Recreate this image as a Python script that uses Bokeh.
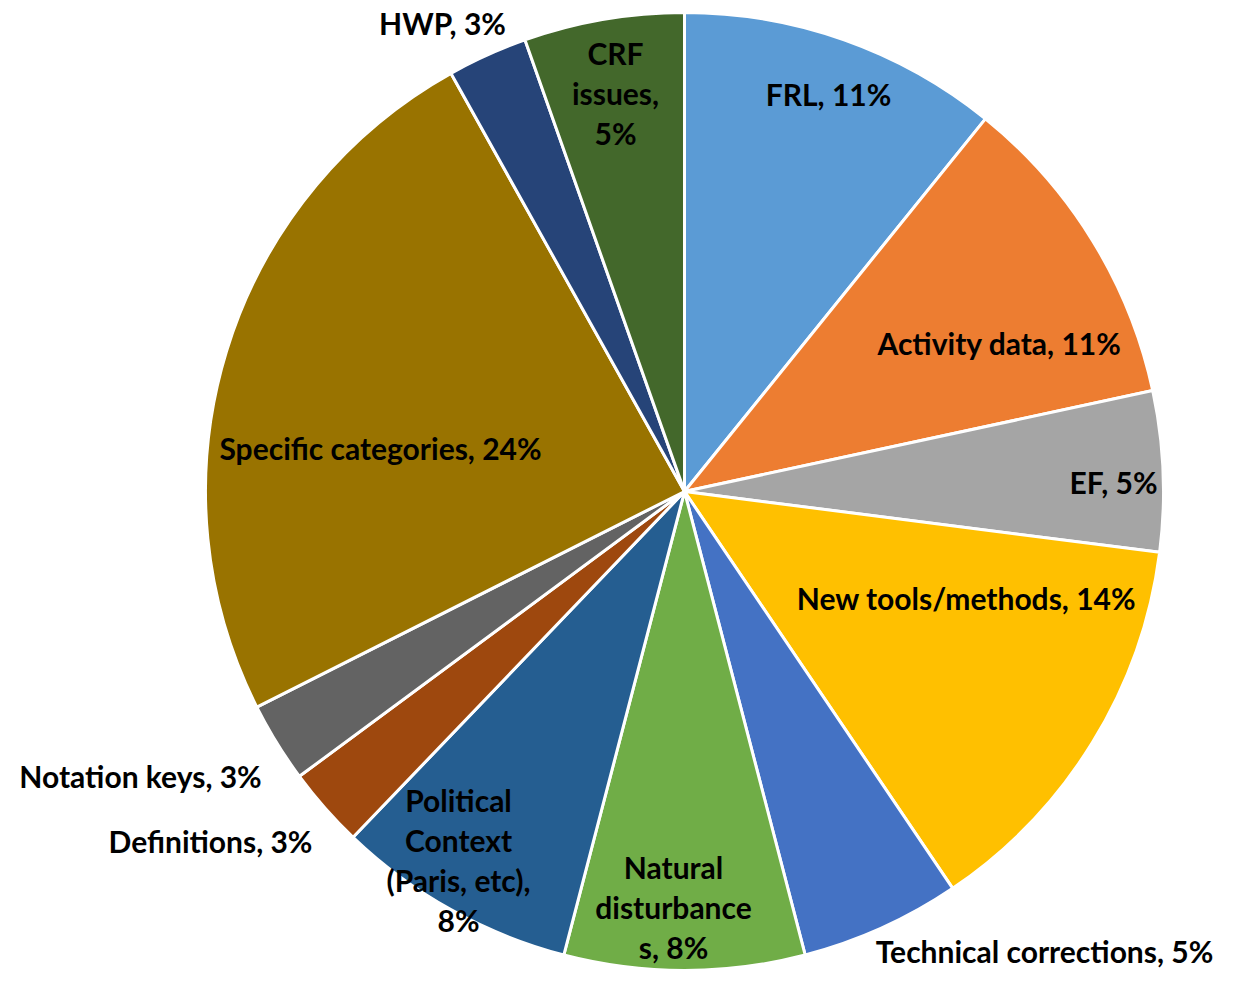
import numpy as np
from bokeh.plotting import figure
from bokeh.models import ColumnDataSource, Range1d
from bokeh.core.properties import value
from bokeh.embed import file_html
from bokeh.resources import INLINE

# ---- data ----
categories = ["FRL", "Activity data", "EF", "New tools/methods",
              "Technical corrections", "Natural disturbances",
              "Political Context (Paris, etc)", "Definitions", "Notation keys",
              "Specific categories", "HWP", "CRF issues"]
counts = [4, 4, 2, 5, 2, 3, 3, 1, 1, 9, 1, 2]
colors = ["#5B9BD5", "#ED7D31", "#A5A5A5", "#FFC000", "#4472C4", "#70AD47",
          "#255E91", "#9E480E", "#636363", "#997300", "#264478", "#43682B"]
# label wrapping as in the original (line pieces before the percentage)
label_heads = [["FRL,"], ["Activity data,"], ["EF,"], ["New tools/methods,"],
               ["Technical corrections,"], ["Natural", "disturbance", "s,"],
               ["Political", "Context", "(Paris, etc),", ""], ["Definitions,"],
               ["Notation keys,"], ["Specific categories,"], ["HWP,"],
               ["CRF", "issues,", ""]]

# ---- layout (image pixel coordinates) ----
W, H = 1221, 971
IMG_H = 987
cx, cy_img, R = 684, 491, 479
label_pos = [(828, 93), (999, 342), (1113, 481), (966, 597), (1044, 950),
             (673, 906), (458, 859), (210, 840), (140, 775), (380, 447),
             (442, 22), (615, 92)]
line_gap = 40
font = "Lato"
fsize = "30px"

total = sum(counts)
fr = np.array(counts) / total
cum = np.concatenate([[0], np.cumsum(fr)])
start = np.pi / 2 - 2 * np.pi * cum[:-1]
end = np.pi / 2 - 2 * np.pi * cum[1:]

p = figure(width=W, height=H, output_backend="svg", toolbar_location=None,
           x_range=Range1d(0, W), y_range=Range1d(IMG_H - H, IMG_H),
           min_border=0)
p.axis.visible = False
p.grid.visible = False
p.outline_line_color = None
p.background_fill_color = "white"

src = ColumnDataSource(dict(start=start, end=end, color=colors, cat=categories))
p.wedge(x=cx, y=IMG_H - cy_img, radius=R, start_angle="start", end_angle="end",
        direction="clock", fill_color="color", line_color="white", line_width=3,
        source=src)

tx, ty, tt = [], [], []
for i, heads in enumerate(label_heads):
    pct = f"{round(fr[i] * 100)}%"
    lines = list(heads)
    if lines[-1] == "":
        lines[-1] = pct
    else:
        lines[-1] = lines[-1] + " " + pct
    n = len(lines)
    x0, y0 = label_pos[i]
    for k, ln in enumerate(lines):
        yy = y0 + (k - (n - 1) / 2) * line_gap
        tx.append(x0)
        ty.append(IMG_H - yy)
        tt.append(ln)

tsrc = ColumnDataSource(dict(x=tx, y=ty, t=tt))
p.text(x="x", y="y", text="t", source=tsrc, text_align="center",
       text_baseline="middle", text_font=value(font), text_font_style="bold",
       text_font_size=fsize, text_color="black")

open("out.html", "w").write(file_html(p, INLINE))
